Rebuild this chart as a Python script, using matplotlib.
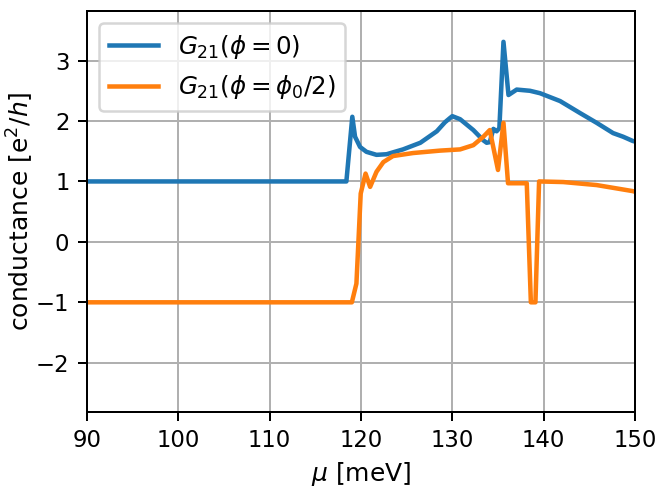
import matplotlib.pyplot as plt

# values
mu_phi0 = [90, 118.4, 119.05, 119.35, 119.9, 120.6, 121.7, 122.8, 124.6, 126.5,
           128.3, 129.2, 129.75, 130.0, 130.85, 132.3, 133.4, 133.76, 134.1, 134.5,
           134.85, 135.15, 135.6, 136.15, 137.05, 138.5, 139.6, 141.8, 144.0, 145.8,
           147.6, 148.7, 149.75, 150]
g_phi0 = [1.0, 1.0, 2.07, 1.74, 1.57, 1.49, 1.44, 1.45, 1.53, 1.64,
          1.83, 1.98, 2.05, 2.08, 2.03, 1.85, 1.68, 1.64, 1.65, 1.87,
          1.83, 1.88, 3.31, 2.43, 2.52, 2.50, 2.46, 2.33, 2.13, 1.97,
          1.80, 1.74, 1.67, 1.66]

mu_phih = [90, 119.0, 119.5, 119.97, 120.5, 121.0, 121.7, 122.45, 123.5, 125.7,
           128.65, 130.85, 132.3, 133.4, 134.1, 135.0, 135.6, 136.1, 138.15,
           138.6, 139.1, 139.5, 142.15, 145.8, 149.75, 150]
g_phih = [-1.0, -1.0, -0.69, 0.80, 1.13, 0.91, 1.16, 1.32, 1.42, 1.47,
          1.51, 1.53, 1.60, 1.74, 1.85, 1.19, 1.97, 0.97, 0.97,
          -1.0, -1.0, 1.0, 0.99, 0.94, 0.84, 0.83]

plt.rcParams['font.size'] = 9.1

fig = plt.figure(figsize=(660 / 180, 487 / 180), dpi=180)
ax = fig.add_axes([0.1318, 0.1546, 0.8303, 0.8228])

ax.plot(mu_phi0, g_phi0, lw=1.8, label=r'$G_{21}(\phi=0)$')
ax.plot(mu_phih, g_phih, lw=1.8, label=r'$G_{21}(\phi=\phi_0/2)$')

ax.set_xlim(90, 150)
ax.set_ylim(-2.81, 3.82)
ax.set_yticks([-2, -1, 0, 1, 2, 3])
ax.set_xlabel(r'$\mu$ [meV]', fontsize=10, labelpad=3)
ax.set_ylabel(r'conductance [e$^2/h$]', fontsize=10, labelpad=0)
ax.grid(True)
ax.legend(loc='upper left', fontsize=9.8)

fig.savefig('out.png', dpi=180)
